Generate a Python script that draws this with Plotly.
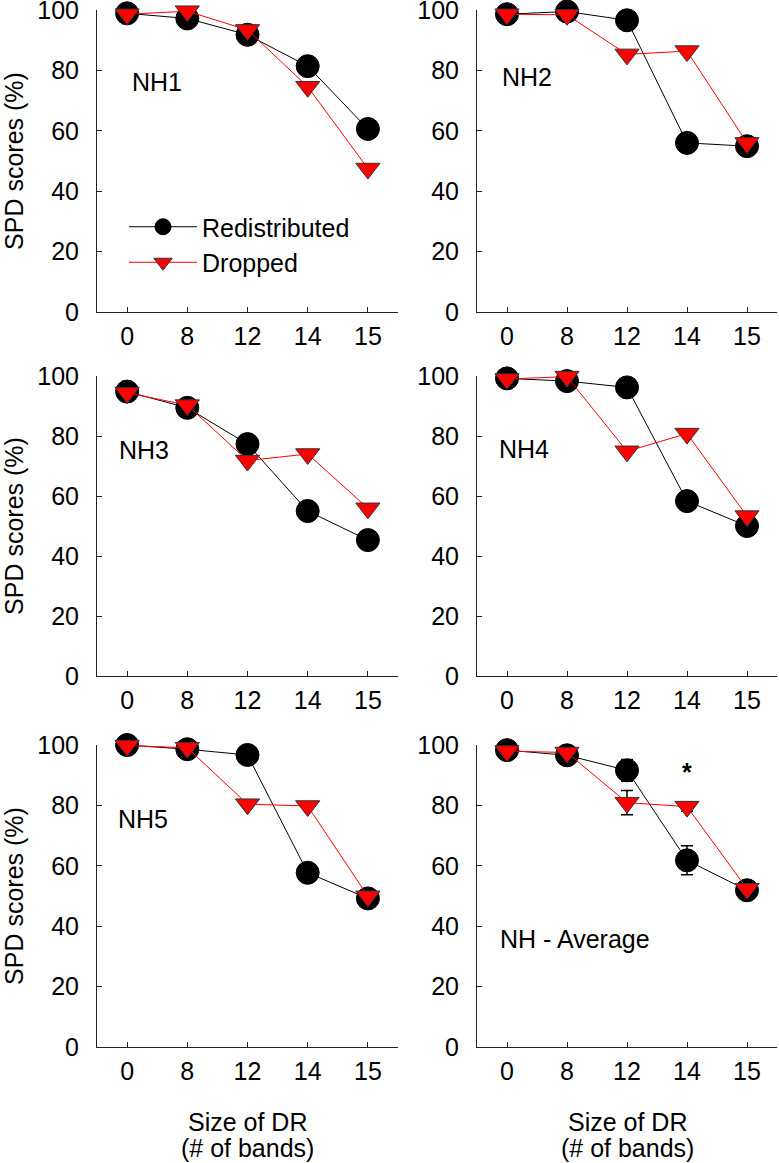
import plotly.graph_objects as go

# ---------------- data ----------------
dr_sizes = ["0", "8", "12", "14", "15"]

nh1_redistributed = [98.9, 97.2, 91.8, 81.4, 60.6]
nh1_dropped = [98.6, 99.6, 93.4, 74.6, 47.5]

nh2_redistributed = [98.6, 99.5, 96.6, 56.0, 54.9]
nh2_dropped = [98.6, 98.4, 85.3, 86.4, 56.0]

nh3_redistributed = [94.8, 89.4, 77.3, 55.0, 45.3]
nh3_dropped = [94.4, 90.3, 71.8, 74.0, 55.9]

nh4_redistributed = [99.2, 98.3, 96.2, 58.3, 50.0]
nh4_dropped = [99.0, 99.8, 74.9, 80.8, 53.3]

nh5_redistributed = [100.0, 98.6, 96.7, 57.7, 49.2]
nh5_dropped = [99.8, 99.1, 80.4, 79.8, 49.9]

avg_redistributed = [98.3, 96.6, 91.6, 61.8, 51.9]
avg_dropped = [98.0, 97.5, 80.9, 79.6, 52.4]
avg_redistributed_err = [0.5, 1.0, 3.6, 4.8, 1.0]
avg_dropped_err = [0.5, 1.0, 4.0, 1.5, 1.0]

panel_labels = ["NH1", "NH2", "NH3", "NH4", "NH5", "NH - Average"]
y_ticks = [0, 20, 40, 60, 80, 100]
x_title_lines = ["Size of DR", "(# of bands)"]

panels = [
    (nh1_redistributed, nh1_dropped, None, None),
    (nh2_redistributed, nh2_dropped, None, None),
    (nh3_redistributed, nh3_dropped, None, None),
    (nh4_redistributed, nh4_dropped, None, None),
    (nh5_redistributed, nh5_dropped, None, None),
    (avg_redistributed, avg_dropped, avg_redistributed_err, avg_dropped_err),
]

# ---------------- layout geometry ----------------
W, H = 779, 1163
col_px = [(97, 398), (477, 777)]
row_px = [(10, 312), (376, 676), (745, 1047)]

FONT = "Liberation Sans, Arial, sans-serif"
FS = 25
RED = "#FF0000"

fig = go.Figure()

label_pos = [
    (0.05, 76.2), (-0.12, 77.9),
    (-0.17, 75.3), (-0.17, 75.6),
    (-0.19, 75.6), (-0.15, 35.9),
]

for i, (red, drop, red_err, drop_err) in enumerate(panels):
    r, c = divmod(i, 2)
    n = i + 1
    xa = "x" if n == 1 else f"x{n}"
    ya = "y" if n == 1 else f"y{n}"
    x0, x1 = col_px[c]
    y0, y1 = row_px[r]

    err_kw_r = {}
    err_kw_d = {}
    if red_err is not None:
        err_kw_r = dict(error_y=dict(type="data", array=red_err, visible=True,
                                     color="black", thickness=1.5, width=6))
        err_kw_d = dict(error_y=dict(type="data", array=drop_err, visible=True,
                                     color="black", thickness=1.5, width=6))

    fig.add_trace(go.Scatter(
        x=dr_sizes, y=red, mode="lines+markers", name="Redistributed",
        line=dict(color="black", width=1),
        marker=dict(symbol="circle", size=23, color="black",
                    line=dict(color="black", width=1)),
        showlegend=(i == 0), cliponaxis=False, xaxis=xa, yaxis=ya, **err_kw_r))
    fig.add_trace(go.Scatter(
        x=dr_sizes, y=drop, mode="lines+markers", name="Dropped",
        line=dict(color=RED, width=1),
        marker=dict(symbol="triangle-down", size=21, color=RED,
                    line=dict(color="#333333", width=1)),
        showlegend=(i == 0), cliponaxis=False, xaxis=xa, yaxis=ya, **err_kw_d))

    xkey = "xaxis" if n == 1 else f"xaxis{n}"
    ykey = "yaxis" if n == 1 else f"yaxis{n}"
    xaxis = dict(
        domain=[x0 / W, x1 / W], anchor=ya, type="category",
        categoryorder="array", categoryarray=dr_sizes,
        range=[-0.5, 4.5], showgrid=False, zeroline=False,
        showline=True, linecolor="#222222", linewidth=1,
        ticks="inside", ticklen=5, tickcolor="#222222", tickwidth=1,
        ticklabelstandoff=2, automargin=False, ticklabeloverflow="allow",
        tickfont=dict(family=FONT, size=FS, color="black"),
        fixedrange=True,
    )
    yaxis = dict(
        domain=[1 - y1 / H, 1 - y0 / H], anchor=xa,
        range=[0, 100], tickvals=y_ticks, showgrid=False, zeroline=False,
        showline=True, linecolor="#222222", linewidth=1,
        ticks="inside", ticklen=5, tickcolor="#222222", tickwidth=1,
        ticklabelstandoff=12, automargin=False, ticklabeloverflow="allow",
        tickfont=dict(family=FONT, size=FS, color="black"),
        fixedrange=True,
    )
    if c == 0:
        yaxis["title"] = dict(text="SPD scores (%)",
                              font=dict(family=FONT, size=FS, color="black"),
                              standoff=21)
    fig.layout[xkey] = xaxis
    fig.layout[ykey] = yaxis

    lx, ly = label_pos[i]
    fig.add_annotation(x=lx, y=ly, xref=xa, yref=ya, text=panel_labels[i],
                       showarrow=False, xanchor="left", yanchor="middle",
                       font=dict(family=FONT, size=FS, color="black"))

    # x-axis titles on the bottom row (two lines)
    if r == 2:
        for line_text, py in zip(x_title_lines, (1122, 1148)):
            fig.add_annotation(x=0.5, y=1 - py / H, xref=f"{xa} domain",
                               yref="paper", text=line_text, showarrow=False,
                               xanchor="center", yanchor="middle",
                               font=dict(family=FONT, size=FS, color="black"))

# significance marker in the average panel (category "14" -> index 3)
fig.add_annotation(x=dr_sizes.index("14"), y=91, xref="x6", yref="y6",
                   text="<b>*</b>", showarrow=False,
                   xanchor="center", yanchor="middle",
                   font=dict(family=FONT, size=FS, color="black"))

fig.update_layout(
    width=W, height=H,
    margin=dict(l=0, r=0, t=0, b=0, autoexpand=False),
    paper_bgcolor="white", plot_bgcolor="white",
    font=dict(family=FONT, size=FS, color="black"),
    showlegend=True,
    legend=dict(x=124 / W, y=1 - 204 / H, xanchor="left", yanchor="top",
                bgcolor="rgba(0,0,0,0)", borderwidth=0,
                itemwidth=68, tracegroupgap=0,
                font=dict(family=FONT, size=FS, color="black")),
)

fig.write_html(
    "out.html",
    config={"displayModeBar": False, "staticPlot": True},
    post_script="document.body.style.margin='0';document.body.style.padding='0';",
)
